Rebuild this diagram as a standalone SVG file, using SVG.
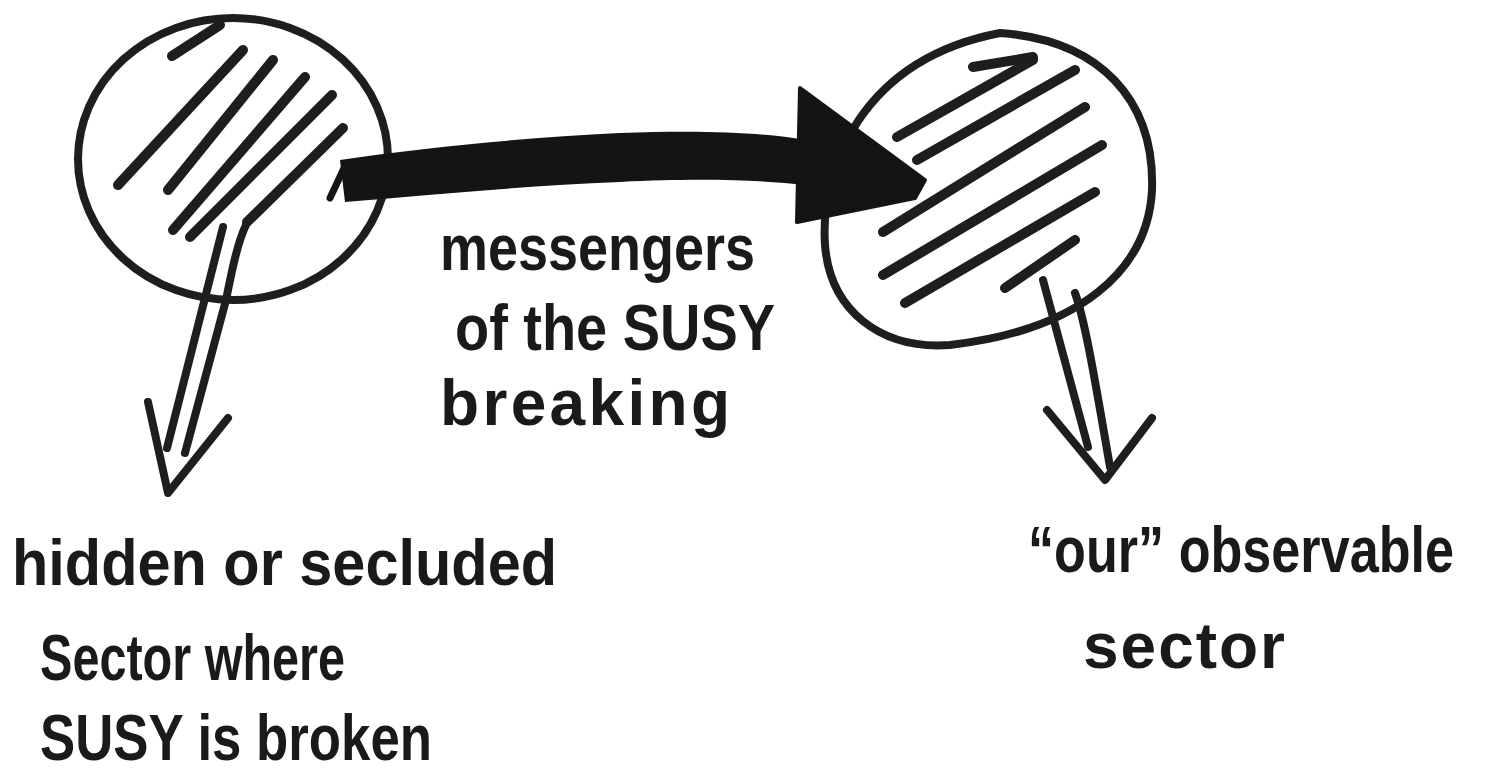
<svg xmlns="http://www.w3.org/2000/svg" width="1494" height="775" viewBox="0 0 1494 775">
<style>
.outline{fill:none;stroke:#1e1e1e;stroke-width:8;stroke-linecap:round;stroke-linejoin:round}
.hatch{fill:none;stroke:#1e1e1e;stroke-width:10;stroke-linecap:round}
.hollow{fill:none;stroke:#1e1e1e;stroke-width:8;stroke-linecap:round;stroke-linejoin:round}
.lbl{font-family:"Liberation Sans","DejaVu Sans",sans-serif;font-weight:700;font-size:64px;fill:#1a1a1a}
</style>
<rect width="1494" height="775" fill="#ffffff"/>
<g id="node-hidden">
<ellipse class="outline" cx="233" cy="159" rx="155" ry="141"/>
<line class="hatch" x1="172" y1="56" x2="220" y2="25"/>
<line class="hatch" x1="118" y1="185" x2="243" y2="50"/>
<line class="hatch" x1="168" y1="190" x2="273" y2="60"/>
<line class="hatch" x1="173" y1="230" x2="305" y2="77"/>
<line class="hatch" x1="190" y1="237" x2="332" y2="95"/>
<line class="hatch" x1="247" y1="222" x2="343" y2="128"/>
<text class="lbl" x="12" y="585" textLength="545" lengthAdjust="spacingAndGlyphs">hidden or secluded</text>
<text class="lbl" x="40" y="680" font-size="58" textLength="305" lengthAdjust="spacingAndGlyphs">Sector where</text>
<text class="lbl" x="40" y="760" font-size="58" textLength="392" lengthAdjust="spacingAndGlyphs">SUSY is broken</text>
</g>
<g id="node-observable">
<path class="outline" d="M1000,33 C1100,40 1155,100 1152,190 C1148,270 1080,330 950,345 C880,350 830,310 825,245 C820,170 860,60 1000,33 Z"/>
<line class="hatch" x1="973" y1="67" x2="1033" y2="57"/>
<line class="hatch" x1="897" y1="137" x2="1033" y2="60"/>
<line class="hatch" x1="917" y1="160" x2="1075" y2="70"/>
<line class="hatch" x1="883" y1="232" x2="1085" y2="107"/>
<line class="hatch" x1="883" y1="275" x2="1102" y2="145"/>
<line class="hatch" x1="905" y1="303" x2="1095" y2="192"/>
<line class="hatch" x1="1005" y1="288" x2="1075" y2="240"/>
<text class="lbl" x="1028" y="572" font-size="56" textLength="426" lengthAdjust="spacingAndGlyphs">“our” observable</text>
<text class="lbl" x="1083" y="668" textLength="202" lengthAdjust="spacing">sector</text>
</g>
<g id="connectors">
<g id="messenger-arrow">
<path d="M340,160 C420,148 520,138 620,133 C700,130 760,132 805,140 L805,185 C760,180 700,178 620,182 C520,186 420,196 345,202 Z" fill="#141414"/>
<path d="M345,166 L330,198" fill="none" stroke="#141414" stroke-width="7" stroke-linecap="round"/>
<path d="M800,88 L925,180 L915,198 L797,222 Z" fill="#141414" stroke="#141414" stroke-width="4" stroke-linejoin="round"/>
</g>
<g id="hidden-arrow">
<path class="hollow" d="M223,227 L167,448"/>
<path class="hollow" d="M247,223 C238,240 232,270 226,300 L185,453"/>
<path class="hollow" d="M148,402 L168,493 L228,418"/>
</g>
<g id="observable-arrow">
<path class="hollow" d="M1043,280 L1088,447"/>
<path class="hollow" d="M1075,293 C1085,320 1095,380 1110,467"/>
<path class="hollow" d="M1047,410 L1105,480 L1152,418"/>
</g>
<text class="lbl" x="440" y="270" font-size="62" textLength="315" lengthAdjust="spacingAndGlyphs">messengers</text>
<text class="lbl" x="455" y="350" font-size="62" textLength="320" lengthAdjust="spacingAndGlyphs">of the SUSY</text>
<text class="lbl" x="440" y="425" textLength="290" lengthAdjust="spacing">breaking</text>
</g>
</svg>
